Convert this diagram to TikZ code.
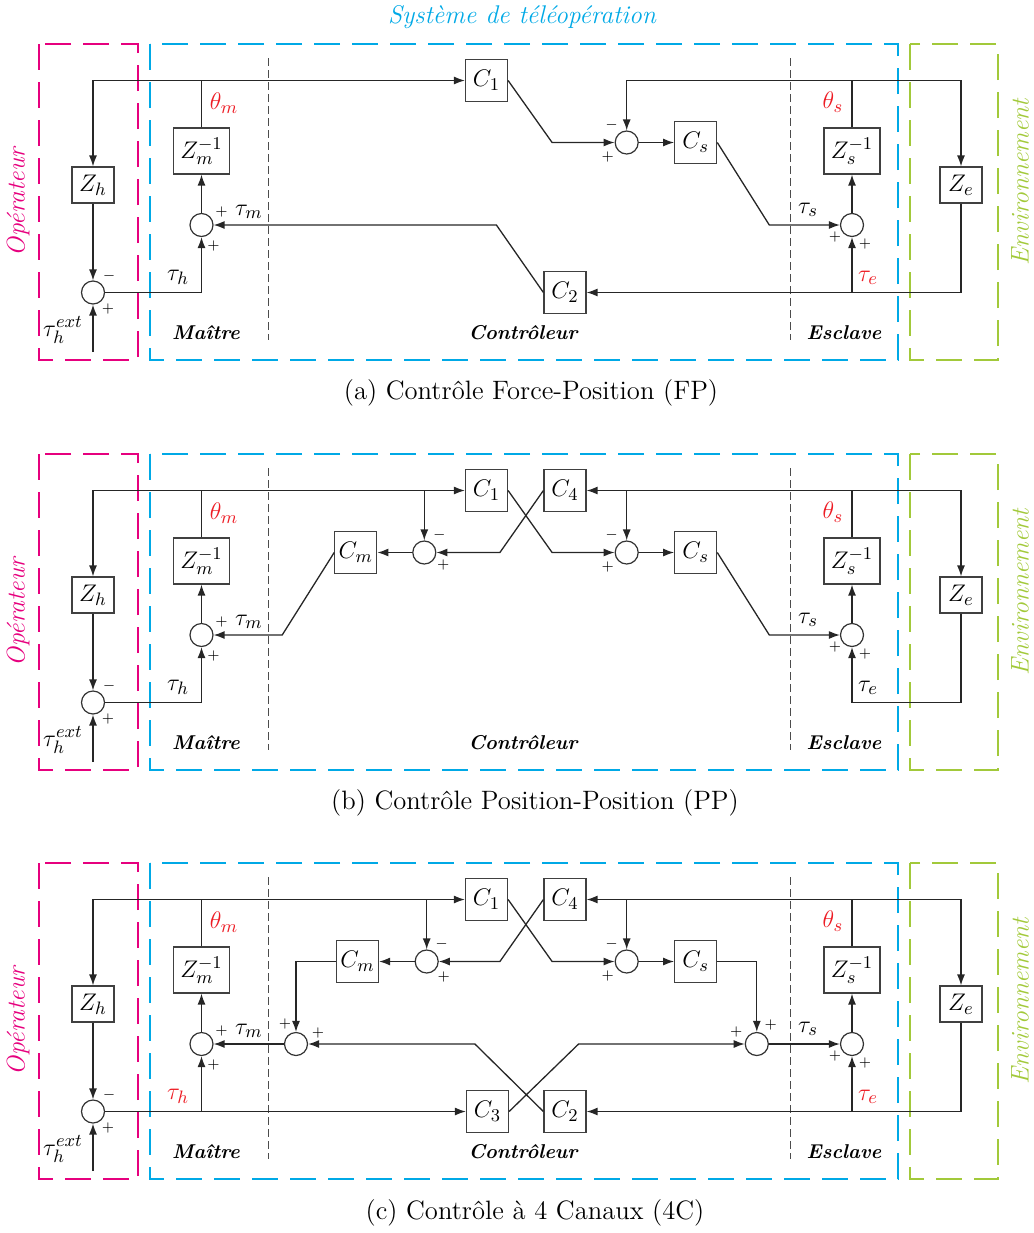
\documentclass[tikz,border=0pt]{standalone}
\usepackage{fontspec}
\usetikzlibrary{arrows.meta}

\definecolor{opcol}{RGB}{230,0,126}
\definecolor{syscol}{RGB}{0,169,230}
\definecolor{envcol}{RGB}{162,201,58}
\definecolor{sigcol}{RGB}{237,28,36}

\begin{document}
\begin{tikzpicture}[
  x=0.5pt, y=-0.5pt,
  mth/.style={font=\fontsize{13}{15}\selectfont},
  blk/.style={mth, draw=black!75, line width=0.6pt, minimum width=21pt, minimum height=18pt, inner sep=1pt},
  cblk/.style={blk, minimum height=21pt},
  zblk/.style={blk, minimum width=28pt, minimum height=23pt},
  sumn/.style={circle, draw=black!80, line width=0.6pt, minimum size=11.5pt, inner sep=0pt},
  arr/.style={-{Latex[length=5.5pt,width=4pt]}, line width=0.65pt, draw=black!85},
  wire/.style={line width=0.65pt, draw=black!85},
  sgn/.style={font=\scriptsize, inner sep=0pt},
  zonebox/.style={line width=1.3pt, dash pattern=on 13pt off 6pt},
  divider/.style={line width=0.5pt, draw=black!70, dash pattern=on 4pt off 2pt},
  zonelbl/.style={font=\bfseries\itshape},
  bigit/.style={font=\fontsize{12.8}{15}\selectfont\itshape}
]
\useasboundingbox (0,0) rectangle (1034,1233);

\node[syscol, bigit] (titre) at (522,17) {Système de téléopération};

% parts shared by the three schemes
\foreach \p/\oy/\colh/\cole in {a/0/black/sigcol, b/410/black/black, c/819/sigcol/sigcol} {
\begin{scope}[shift={(0,\oy)}]
  \draw[zonebox, opcol] (39,44) rectangle (138,360);
  \draw[zonebox, syscol] (150,44) rectangle (898,360);
  \draw[zonebox, envcol] (910,44) rectangle (998,360);
  \draw[divider] (268,58) -- (268,340);
  \draw[divider] (790,58) -- (790,340);

  \node[zonelbl] (mai\p) at (206,333) {Maître};
  \node[zonelbl] (ctl\p) at (523,333) {Contrôleur};
  \node[zonelbl] (esc\p) at (844,333) {Esclave};
  \node[opcol, rotate=90, bigit] (op\p) at (18,202) {Opérateur};
  \node[envcol, rotate=90, bigit] (env\p) at (1020,182) {Environnement};

  \node[blk] (zh\p) at (93,185) {$Z_h$};
  \node[sumn] (sh\p) at (93,292.5) {};
  \node[sumn] (sm\p) at (201.5,225) {};
  \node[zblk] (zm\p) at (201.5,151) {$Z_m^{-1}$};
  \node[cblk] (c1\p) at (486.5,80.5) {$C_1$};
  \node[sumn] (s3\p) at (626.7,142.5) {};
  \node[cblk] (cs\p) at (695.7,142.5) {$C_s$};
  \node[zblk] (zs\p) at (852,151) {$Z_s^{-1}$};
  \node[sumn] (ss\p) at (852,225) {};
  \node[blk] (ze\p) at (961,185) {$Z_e$};
  \coordinate (ext\p) at (93,352);
  \coordinate (te\p) at (852,292.5);
  \coordinate (ts\p) at (852,80.5);

  \node[mth, sigcol] (thm\p) at (224,103) {$\theta_m$};
  \node[mth, sigcol] (ths\p) at (833,102) {$\theta_s$};
  \node[mth, inner sep=0pt] (tex\p) at (63,330) {$\tau_h^{ext}$};
  \node[mth, \colh] (tah\p) at (178,277) {$\tau_h$};
  \node[mth] (tam\p) at (249,212) {$\tau_m$};
  \node[mth] (tas\p) at (808,210) {$\tau_s$};
  \node[mth, \cole] (tae\p) at (868,278) {$\tau_e$};

  \node[sgn] (shm\p) at ([shift={(16,-16.5)}]sh\p) {$-$};
  \node[sgn] (shp\p) at ([shift={(15,16.5)}]sh\p) {$+$};
  \node[sgn] (smu\p) at ([shift={(20,-13)}]sm\p) {$+$};
  \node[sgn] (smd\p) at ([shift={(12,21)}]sm\p) {$+$};
  \node[sgn] (s3m\p) at ([shift={(-15,-17.5)}]s3\p) {$-$};
  \node[sgn] (s3p\p) at ([shift={(-19,14.5)}]s3\p) {$+$};
  \node[sgn] (ssl\p) at ([shift={(-17,12)}]ss\p) {$+$};
  \node[sgn] (ssr\p) at ([shift={(13,19)}]ss\p) {$+$};

  \draw[arr] (zm\p.north) |- (c1\p.west);
  \draw[arr] (zm\p.north) -- (zm\p.north |- c1\p.west) -| (zh\p.north);
  \draw[arr] (zh\p) -- (sh\p);
  \draw[arr] (ext\p) -- (sh\p);
  \draw[arr] (sm\p) -- (zm\p);
  \draw[arr] (ss\p) -- (zs\p);
  \draw[arr] (zs\p.north) -- (ts\p) -| (ze\p.north);
  \draw[wire] (ze\p.south) |- (te\p);
  \draw[arr] (te\p) -- (ss\p);
  \draw[arr] (s3\p) -- (cs\p);
  \draw[arr] (c1\p.east) -- ++(44,62) -- (s3\p);
\end{scope}
}

% (a) force-position
\node[cblk] (c2a) at (565,292.5) {$C_2$};
\draw[arr] (tea) -- (c2a);
\draw[arr] (c2a.west) -- ++(-47,-67.5) -- (sma);
\draw[arr] (tsa) -| (s3a);
\draw[arr] (sha) -| (sma);
\draw[arr] (csa.east) -- ++(52,82.5) -- (ssa);

% (b) position-position
\begin{scope}[shift={(0,410)}]
  \node[cblk] (c4b) at (565,80.5) {$C_4$};
  \node[sumn] (s6b) at (424.3,142.5) {};
  \node[cblk] (cmb) at (355.8,142.5) {$C_m$};
  \node[sgn] (s6mb) at ([shift={(15,-17.5)}]s6b) {$-$};
  \node[sgn] (s6pb) at ([shift={(19,12)}]s6b) {$+$};
\end{scope}
\draw[arr] (tsb) -- (c4b);
\draw[arr] (s3b |- tsb) -- (s3b);
\draw[arr] (s6b |- c1b.west) -- (s6b);
\draw[arr] (c4b.west) -- ++(-43.5,62) -- (s6b);
\draw[arr] (s6b) -- (cmb);
\draw[arr] (cmb.west) -- ++(-52,82.5) -- (smb);
\draw[arr] (shb) -| (smb);
\draw[arr] (csb.east) -- ++(52,82.5) -- (ssb);

% (c) 4 canaux
\begin{scope}[shift={(0,819)}]
  \node[cblk] (c2c) at (565,292.5) {$C_2$};
  \node[cblk] (c3c) at (487.5,292.5) {$C_3$};
  \node[cblk] (c4c) at (565,80.5) {$C_4$};
  \node[sumn] (s6c) at (426.7,142.5) {};
  \node[cblk] (cmc) at (357.5,142.5) {$C_m$};
  \node[sumn] (s5c) at (296,225) {};
  \node[sumn] (s7c) at (756.8,225) {};
  \node[sgn] (s6mc) at ([shift={(15,-17.5)}]s6c) {$-$};
  \node[sgn] (s6pc) at ([shift={(17,15)}]s6c) {$+$};
  \node[sgn] (s5lc) at ([shift={(-11,-20)}]s5c) {$+$};
  \node[sgn] (s5rc) at ([shift={(22,-11)}]s5c) {$+$};
  \node[sgn] (s7lc) at ([shift={(-20.5,-12.5)}]s7c) {$+$};
  \node[sgn] (s7rc) at ([shift={(14,-19)}]s7c) {$+$};
\end{scope}
\draw[arr] (tsc) -- (c4c);
\draw[arr] (s3c |- tsc) -- (s3c);
\draw[arr] (s6c |- c1c.west) -- (s6c);
\draw[arr] (c4c.west) -- ++(-43.5,62) -- (s6c);
\draw[arr] (s6c) -- (cmc);
\draw[arr] (cmc) -| (s5c);
\draw[arr] (s5c) -- (smc);
\draw[arr] (shc) -- (c3c);
\draw[arr] (smc |- shc) -- (smc);
\draw[arr] (tec) -- (c2c);
\draw[arr] (c2c.west) -- ++(-68.5,-67.5) -- (s5c);
\draw[arr] (c3c.east) -- ++(69.5,-67.5) -- (s7c);
\draw[arr] (csc) -| (s7c);
\draw[arr] (s7c) -- (ssc);

% captions
\node[font=\fontsize{13.3}{16}\selectfont] (capa) at (531,393) {(a) Contrôle Force-Position (FP)};
\node[font=\fontsize{13.3}{16}\selectfont] (capb) at (535,803) {(b) Contrôle Position-Position (PP)};
\node[font=\fontsize{13.3}{16}\selectfont] (capc) at (535,1213) {(c) Contrôle à 4 Canaux (4C)};
\end{tikzpicture}
\end{document}
